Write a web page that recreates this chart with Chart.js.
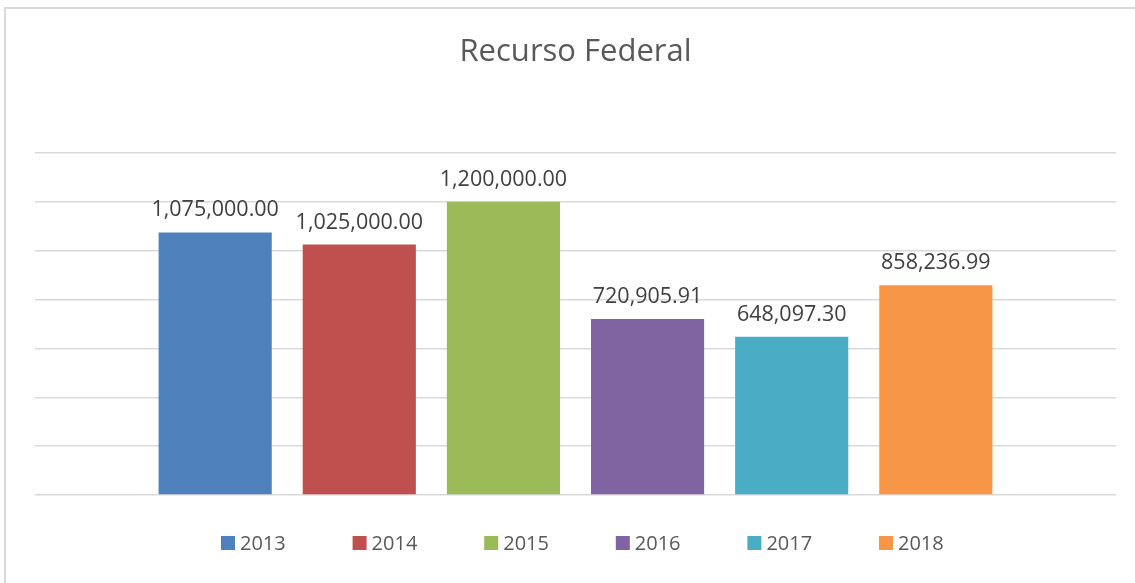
<!DOCTYPE html>
<html>
<head>
<meta charset="utf-8">
<script src="https://cdn.jsdelivr.net/npm/chart.js@4"></script>
<style>
  html, body { margin: 0; padding: 0; background: #fff; }
  #wrap { width: 1135px; height: 583px; }
</style>
</head>
<body>
<div id="wrap"><canvas id="chart" width="1135" height="583"></canvas></div>
<script>
const years = ["2013", "2014", "2015", "2016", "2017", "2018"];
const amounts = [1075000.00, 1025000.00, 1200000.00, 720905.91, 648097.30, 858236.99];
const colors = ["#4F81BD", "#C0504D", "#9BBB59", "#8064A2", "#4BACC6", "#F79646"];
const yTicks = [0, 200000, 400000, 600000, 800000, 1000000, 1200000, 1400000];

const fmt = v => v.toLocaleString("en-US", { minimumFractionDigits: 2, maximumFractionDigits: 2 });

// white background + the frame lines at the top and left
const framePlugin = {
  id: "frame",
  beforeDraw(chart) {
    const ctx = chart.ctx;
    ctx.save();
    ctx.fillStyle = "#fff";
    ctx.fillRect(0, 0, chart.width, chart.height);
    ctx.strokeStyle = "#d9d9d9";
    ctx.lineWidth = 2;
    ctx.beginPath();
    ctx.moveTo(5, chart.height);
    ctx.lineTo(5, 8);
    ctx.lineTo(chart.width, 8);
    ctx.stroke();
    ctx.restore();
  }
};

// value labels above each bar
const valueLabels = {
  id: "valueLabels",
  afterDatasetsDraw(chart) {
    const ctx = chart.ctx;
    ctx.save();
    ctx.font = "21.5px 'Open Sans'";
    ctx.fillStyle = "#404040";
    ctx.textAlign = "center";
    ctx.textBaseline = "alphabetic";
    chart.data.datasets.forEach((ds, i) => {
      const bar = chart.getDatasetMeta(i).data[0];
      ctx.fillText(fmt(ds.data[0]), bar.x, bar.y - 16);
    });
    ctx.restore();
  }
};

// legend row under the plot
const legendRow = {
  id: "legendRow",
  afterDraw(chart) {
    const ctx = chart.ctx;
    ctx.save();
    ctx.font = "20px 'Open Sans'";
    ctx.textBaseline = "middle";
    const y = 543;
    const step = 131.6;
    let x = 221;
    chart.data.datasets.forEach(ds => {
      ctx.fillStyle = ds.backgroundColor;
      ctx.fillRect(x, y - 7, 14, 14);
      ctx.fillStyle = "#595959";
      ctx.fillText(ds.label, x + 19, y + 1);
      x += step;
    });
    ctx.restore();
  }
};

new Chart(document.getElementById("chart"), {
  type: "bar",
  data: {
    labels: [""],
    datasets: years.map((y, i) => ({
      label: y,
      data: [amounts[i]],
      backgroundColor: colors[i],
      borderWidth: 0
    }))
  },
  options: {
    responsive: false,
    animation: false,
    datasets: {
      bar: { categoryPercentage: 0.8, barPercentage: 0.785 }
    },
    layout: { padding: { left: 35, right: 19, top: 0, bottom: 88 } },
    plugins: {
      legend: { display: false },
      tooltip: { enabled: false },
      title: {
        display: true,
        text: "Recurso Federal",
        color: "#595959",
        font: { family: "'Open Sans'", size: 31, weight: "normal" },
        padding: { top: 33.4, bottom: 82.4 }
      }
    },
    scales: {
      x: { display: false },
      y: {
        min: 0,
        max: yTicks[yTicks.length - 1],
        afterBuildTicks: axis => { axis.ticks = yTicks.map(v => ({ value: v })); },
        ticks: { display: false },
        border: { display: false },
        grid: { color: "#d9d9d9", lineWidth: 1.5, drawTicks: false }
      }
    }
  },
  plugins: [framePlugin, valueLabels, legendRow]
});
</script>
</body>
</html>
